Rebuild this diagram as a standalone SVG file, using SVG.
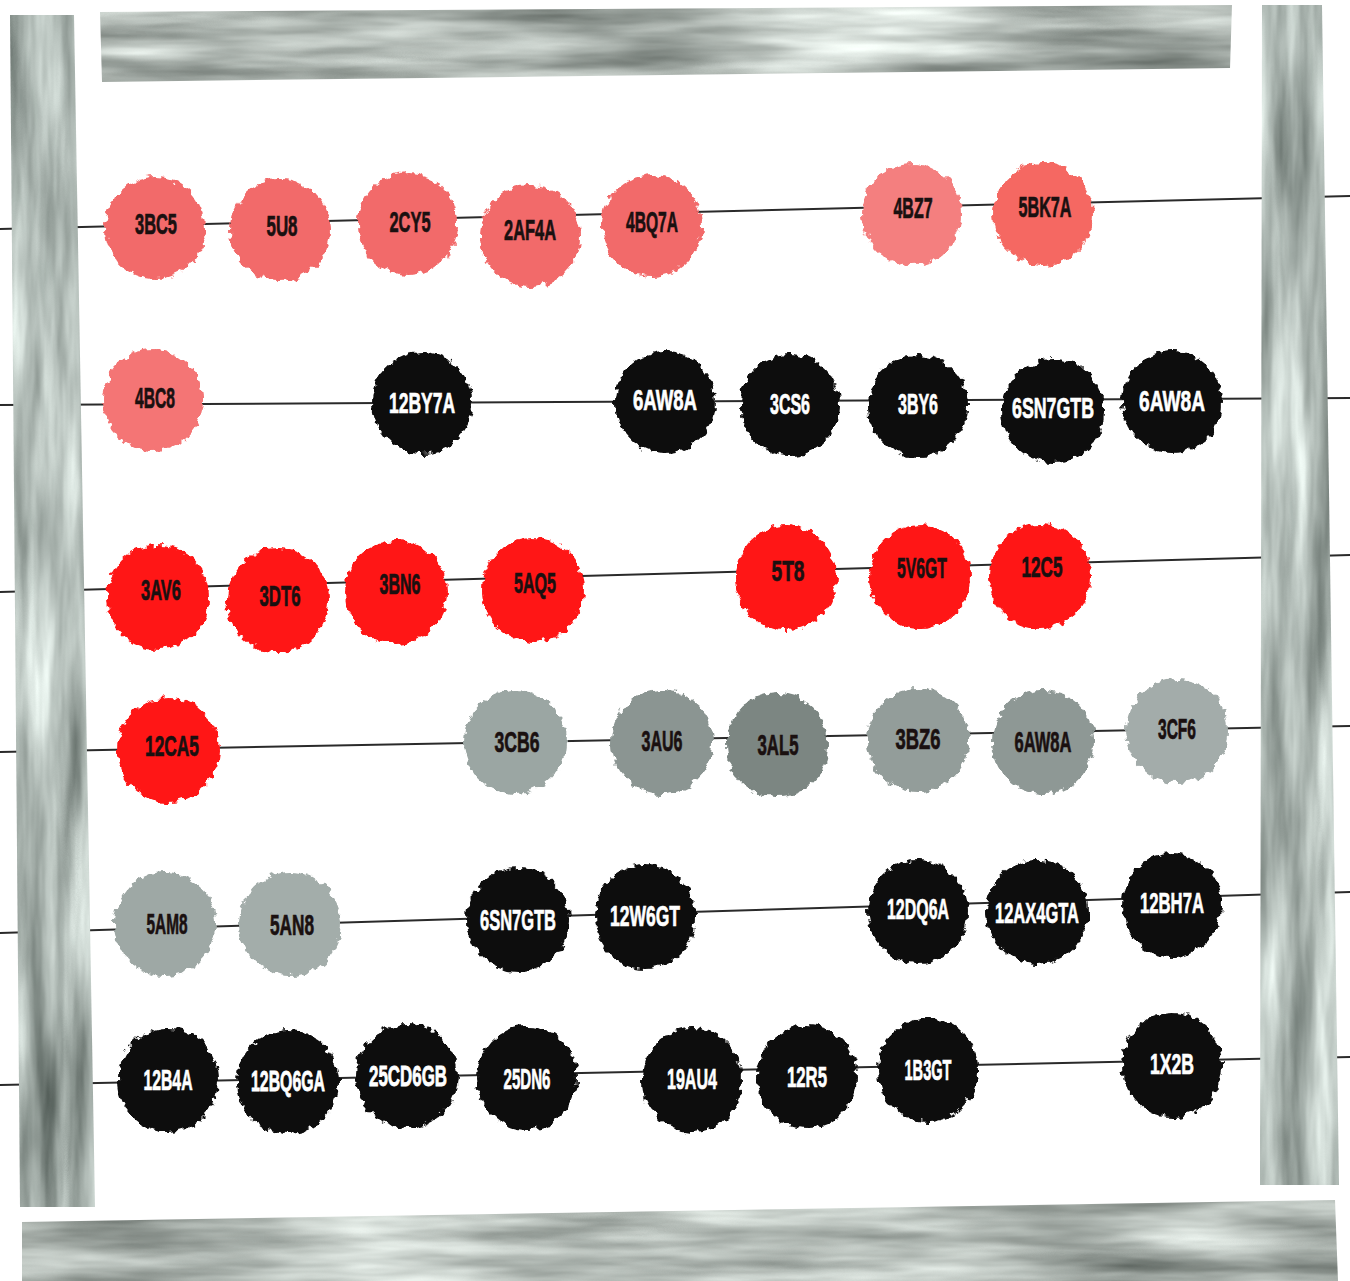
<svg xmlns="http://www.w3.org/2000/svg" width="1350" height="1281" viewBox="0 0 1350 1281">
<defs>
<filter id="grainH" x="0" y="0" width="1" height="1" color-interpolation-filters="sRGB">
<feTurbulence type="fractalNoise" baseFrequency="0.004 0.035" numOctaves="4" seed="4" result="n"/>
<feColorMatrix in="n" type="matrix" values="0.8 0 0 0 0.3  0.8 0 0 0 0.33  0.8 0 0 0 0.31  0 0 0 0 1" result="c"/>
<feComposite in="c" in2="SourceGraphic" operator="in"/>
</filter>
<filter id="grainV" x="0" y="0" width="1" height="1" color-interpolation-filters="sRGB">
<feTurbulence type="fractalNoise" baseFrequency="0.035 0.004" numOctaves="4" seed="9" result="n"/>
<feColorMatrix in="n" type="matrix" values="0.8 0 0 0 0.28  0.8 0 0 0 0.32  0.8 0 0 0 0.3  0 0 0 0 1" result="c"/>
<feComposite in="c" in2="SourceGraphic" operator="in"/>
</filter>
<filter id="rough" x="-20%" y="-20%" width="140%" height="140%">
<feTurbulence type="fractalNoise" baseFrequency="0.13" numOctaves="2" seed="2" result="n"/>
<feDisplacementMap in="SourceGraphic" in2="n" scale="10" xChannelSelector="R" yChannelSelector="G"/>
</filter>
<style>
.wire{stroke:#2a2a2a;stroke-width:2;fill:none}
.frame{fill:#999}
.s{fill:#f26a6a;filter:url(#rough)}
.r{fill:#ff1616;filter:url(#rough)}
.g{fill:#939d9a;filter:url(#rough)}
.k{fill:#0a0a0a;filter:url(#rough)}
text{font-family:"Liberation Sans",Arial,sans-serif;font-weight:bold;font-size:29px;text-anchor:middle;dominant-baseline:central;stroke-width:0.7px}
text.sm{font-size:24px}
.td{fill:#1a1010;stroke:#1a1010}
.tw{fill:#ffffff;stroke:#ffffff}
</style>
</defs>
<rect width="1350" height="1281" fill="#ffffff"/>
<g id="connectors">
<line class="wire" x1="0" y1="229" x2="1350" y2="196"/>
<line class="wire" x1="0" y1="405" x2="1350" y2="398"/>
<line class="wire" x1="0" y1="592" x2="1350" y2="555"/>
<line class="wire" x1="0" y1="752" x2="1350" y2="726"/>
<line class="wire" x1="0" y1="933" x2="1350" y2="892"/>
<line class="wire" x1="0" y1="1085" x2="1350" y2="1057"/>
</g>
<g id="frame">
<polygon class="frame" filter="url(#grainH)" points="100,12 1232,5 1230,68 102,82"/>
<polygon class="frame" filter="url(#grainV)" points="10,15 74,15 95,1207 20,1207"/>
<polygon class="frame" filter="url(#grainV)" points="1262,5 1322,5 1339,1185 1260,1185"/>
<polygon class="frame" filter="url(#grainH)" points="22,1222 1335,1200 1338,1281 22,1281"/>
</g>
<g id="row1">
<g id="n-3BC5"><ellipse class="s" cx="155" cy="228" rx="50" ry="51"/><text class="td" x="156" y="224" textLength="42" lengthAdjust="spacingAndGlyphs">3BC5</text></g>
<g id="n-5U8"><ellipse class="s" cx="280" cy="230" rx="50" ry="51"/><text class="td" x="282" y="226" textLength="31" lengthAdjust="spacingAndGlyphs">5U8</text></g>
<g id="n-2CY5"><ellipse class="s" cx="408" cy="224" rx="50" ry="51"/><text class="td" x="410" y="222" textLength="41" lengthAdjust="spacingAndGlyphs">2CY5</text></g>
<g id="n-2AF4A"><ellipse class="s" cx="530" cy="236" rx="50" ry="51"/><text class="td" x="530" y="230" textLength="52" lengthAdjust="spacingAndGlyphs">2AF4A</text></g>
<g id="n-4BQ7A"><ellipse class="s" cx="652" cy="226" rx="50" ry="51"/><text class="td" x="652" y="222" textLength="52" lengthAdjust="spacingAndGlyphs">4BQ7A</text></g>
<g id="n-4BZ7"><ellipse class="s" style="fill:#f47f7f" cx="912" cy="214" rx="50" ry="51"/><text class="td" x="913" y="208" textLength="39" lengthAdjust="spacingAndGlyphs">4BZ7</text></g>
<g id="n-5BK7A"><ellipse class="s" style="fill:#f56862" cx="1043" cy="214" rx="50" ry="51"/><text class="td" x="1045" y="207" textLength="53" lengthAdjust="spacingAndGlyphs">5BK7A</text></g>
</g>
<g id="row2">
<g id="n-4BC8"><ellipse class="s" style="fill:#f47474" cx="153" cy="400" rx="50" ry="51"/><text class="td" x="155" y="398" textLength="40" lengthAdjust="spacingAndGlyphs">4BC8</text></g>
<g id="n-12BY7A"><ellipse class="k" cx="422" cy="403" rx="50" ry="51"/><text class="tw" x="422" y="403" textLength="66" lengthAdjust="spacingAndGlyphs">12BY7A</text></g>
<g id="n-6AW8A-a"><ellipse class="k" cx="665" cy="402" rx="50" ry="51"/><text class="tw" x="665" y="400" textLength="64" lengthAdjust="spacingAndGlyphs">6AW8A</text></g>
<g id="n-3CS6"><ellipse class="k" cx="790" cy="405" rx="50" ry="51"/><text class="tw" x="790" y="404" textLength="40" lengthAdjust="spacingAndGlyphs">3CS6</text></g>
<g id="n-3BY6"><ellipse class="k" cx="918" cy="406" rx="50" ry="51"/><text class="tw" x="918" y="404" textLength="40" lengthAdjust="spacingAndGlyphs">3BY6</text></g>
<g id="n-6SN7GTB-a"><ellipse class="k" cx="1053" cy="411" rx="51" ry="52"/><text class="tw" x="1053" y="408" textLength="82" lengthAdjust="spacingAndGlyphs">6SN7GTB</text></g>
<g id="n-6AW8A-b"><ellipse class="k" cx="1172" cy="402" rx="50" ry="51"/><text class="tw" x="1172" y="401" textLength="66" lengthAdjust="spacingAndGlyphs">6AW8A</text></g>
</g>
<g id="row3">
<g id="n-3AV6"><ellipse class="r" cx="158" cy="597" rx="51" ry="52"/><text class="td" x="161" y="590" textLength="40" lengthAdjust="spacingAndGlyphs">3AV6</text></g>
<g id="n-3DT6"><ellipse class="r" cx="278" cy="600" rx="51" ry="52"/><text class="td" x="280" y="596" textLength="41" lengthAdjust="spacingAndGlyphs">3DT6</text></g>
<g id="n-3BN6"><ellipse class="r" cx="396" cy="592" rx="51" ry="52"/><text class="td" x="400" y="584" textLength="41" lengthAdjust="spacingAndGlyphs">3BN6</text></g>
<g id="n-5AQ5"><ellipse class="r" cx="533" cy="590" rx="51" ry="52"/><text class="td" x="535" y="583" textLength="42" lengthAdjust="spacingAndGlyphs">5AQ5</text></g>
<g id="n-5T8"><ellipse class="r" cx="786" cy="578" rx="51" ry="52"/><text class="td" x="788" y="571" textLength="33" lengthAdjust="spacingAndGlyphs">5T8</text></g>
<g id="n-5V6GT"><ellipse class="r" cx="920" cy="577" rx="51" ry="52"/><text class="td" x="922" y="568" textLength="50" lengthAdjust="spacingAndGlyphs">5V6GT</text></g>
<g id="n-12C5"><ellipse class="r" cx="1040" cy="576" rx="51" ry="52"/><text class="td" x="1042" y="567" textLength="41" lengthAdjust="spacingAndGlyphs">12C5</text></g>
</g>
<g id="row4">
<g id="n-12CA5"><ellipse class="r" cx="168" cy="750" rx="51" ry="52"/><text class="td" x="172" y="746" textLength="54" lengthAdjust="spacingAndGlyphs">12CA5</text></g>
<g id="n-3CB6"><ellipse class="g" style="fill:#9ba6a3" cx="515" cy="742" rx="51" ry="52"/><text class="td" x="517" y="742" textLength="45" lengthAdjust="spacingAndGlyphs">3CB6</text></g>
<g id="n-3AU6"><ellipse class="g" style="fill:#8b9592" cx="662" cy="742" rx="51" ry="52"/><text class="td" x="662" y="741" textLength="41" lengthAdjust="spacingAndGlyphs">3AU6</text></g>
<g id="n-3AL5"><ellipse class="g" style="fill:#7b8682" cx="777" cy="745" rx="51" ry="52"/><text class="td" x="778" y="745" textLength="41" lengthAdjust="spacingAndGlyphs">3AL5</text></g>
<g id="n-3BZ6"><ellipse class="g" cx="918" cy="740" rx="51" ry="52"/><text class="td" x="918" y="739" textLength="45" lengthAdjust="spacingAndGlyphs">3BZ6</text></g>
<g id="n-6AW8A-c"><ellipse class="g" style="fill:#8e9895" cx="1043" cy="742" rx="51" ry="52"/><text class="td" x="1043" y="742" textLength="57" lengthAdjust="spacingAndGlyphs">6AW8A</text></g>
<g id="n-3CF6"><ellipse class="g" style="fill:#a3acaa" cx="1177" cy="731" rx="51" ry="52"/><text class="td" x="1177" y="729" textLength="38" lengthAdjust="spacingAndGlyphs">3CF6</text></g>
</g>
<g id="row5">
<g id="n-5AM8"><ellipse class="g" style="fill:#9ea8a5" cx="165" cy="924" rx="51" ry="52"/><text class="td" x="167" y="924" textLength="41" lengthAdjust="spacingAndGlyphs">5AM8</text></g>
<g id="n-5AN8"><ellipse class="g" style="fill:#a3adaa" cx="290" cy="924" rx="51" ry="52"/><text class="td" x="292" y="925" textLength="44" lengthAdjust="spacingAndGlyphs">5AN8</text></g>
<g id="n-6SN7GTB-b"><ellipse class="k" cx="518" cy="920" rx="51" ry="52"/><text class="tw" x="518" y="920" textLength="76" lengthAdjust="spacingAndGlyphs">6SN7GTB</text></g>
<g id="n-12W6GT"><ellipse class="k" cx="645" cy="917" rx="50" ry="52"/><text class="tw" x="645" y="916" textLength="70" lengthAdjust="spacingAndGlyphs">12W6GT</text></g>
<g id="n-12DQ6A"><ellipse class="k" cx="918" cy="912" rx="50" ry="52"/><text class="tw" x="918" y="909" textLength="62" lengthAdjust="spacingAndGlyphs">12DQ6A</text></g>
<g id="n-12AX4GTA"><ellipse class="k" cx="1037" cy="912" rx="51" ry="52"/><text class="tw" x="1037" y="913" textLength="84" lengthAdjust="spacingAndGlyphs">12AX4GTA</text></g>
<g id="n-12BH7A"><ellipse class="k" cx="1172" cy="905" rx="50" ry="52"/><text class="tw" x="1172" y="903" textLength="64" lengthAdjust="spacingAndGlyphs">12BH7A</text></g>
</g>
<g id="row6">
<g id="n-12B4A"><ellipse class="k" cx="168" cy="1080" rx="50" ry="52"/><text class="tw" x="168" y="1080" textLength="49" lengthAdjust="spacingAndGlyphs">12B4A</text></g>
<g id="n-12BQ6GA"><ellipse class="k" cx="288" cy="1082" rx="51" ry="52"/><text class="tw sm" transform="translate(288,1081) scale(1,1.2)" x="0" y="0" textLength="74" lengthAdjust="spacingAndGlyphs">12BQ6GA</text></g>
<g id="n-25CD6GB"><ellipse class="k" cx="407" cy="1076" rx="51" ry="52"/><text class="tw sm" transform="translate(408,1076) scale(1,1.2)" x="0" y="0" textLength="78" lengthAdjust="spacingAndGlyphs">25CD6GB</text></g>
<g id="n-25DN6"><ellipse class="k" cx="527" cy="1078" rx="50" ry="52"/><text class="tw" x="527" y="1079" textLength="47" lengthAdjust="spacingAndGlyphs">25DN6</text></g>
<g id="n-19AU4"><ellipse class="k" cx="692" cy="1080" rx="50" ry="52"/><text class="tw" x="692" y="1079" textLength="50" lengthAdjust="spacingAndGlyphs">19AU4</text></g>
<g id="n-12R5"><ellipse class="k" cx="807" cy="1077" rx="50" ry="52"/><text class="tw" x="807" y="1077" textLength="40" lengthAdjust="spacingAndGlyphs">12R5</text></g>
<g id="n-1B3GT"><ellipse class="k" cx="928" cy="1070" rx="50" ry="52"/><text class="tw" x="928" y="1070" textLength="47" lengthAdjust="spacingAndGlyphs">1B3GT</text></g>
<g id="n-1X2B"><ellipse class="k" cx="1172" cy="1065" rx="50" ry="52"/><text class="tw" x="1172" y="1064" textLength="44" lengthAdjust="spacingAndGlyphs">1X2B</text></g>
</g>
</svg>
